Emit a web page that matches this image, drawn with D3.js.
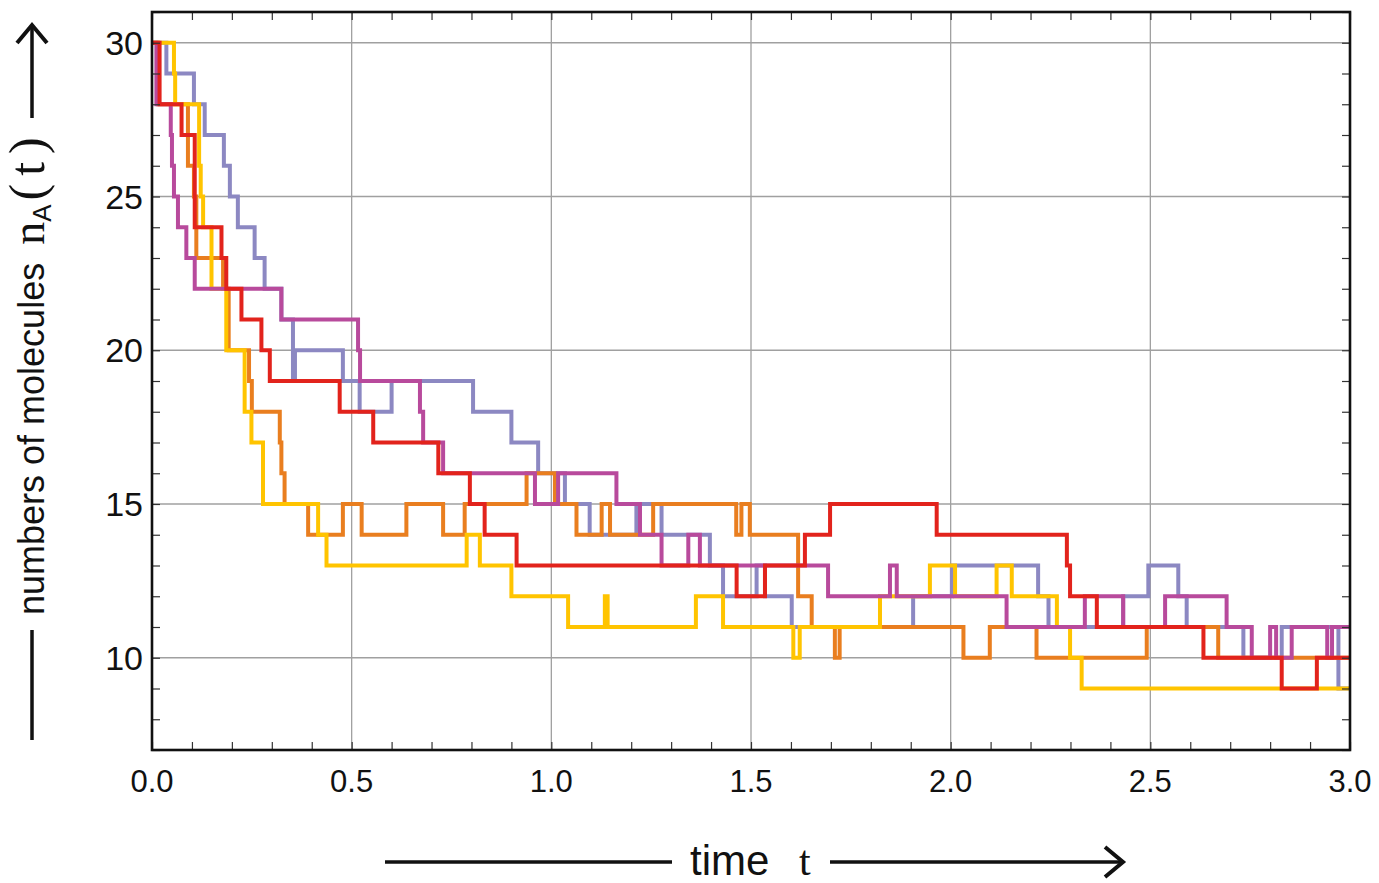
<!DOCTYPE html>
<html><head><meta charset="utf-8">
<script src="https://cdn.jsdelivr.net/npm/d3@7"></script>
<style>body{margin:0;background:#fff}svg{display:block}</style>
</head><body><svg id="c" width="1379" height="883"></svg>
<script>
// ---- data (time of jump, value after jump) ----
const blueT = [0,0.036,0.105,0.132,0.180,0.195,0.215,0.257,0.282,0.324,0.353,0.358,0.478,0.520,0.600,0.804,0.900,0.967,1.034,1.096,1.213,1.276,1.397,1.430,1.514,1.535,1.602,1.906,2.003,2.219,2.245,2.432,2.495,2.570,2.591,2.733,2.829,2.971];
const blueN = [30,29,28,27,26,25,24,23,22,21,19,20,19,18,19,18,17,16,15,14,15,14,13,12,13,12,11,12,13,12,11,12,13,12,11,10,11,9];
const orangeT = [0,0.015,0.090,0.105,0.111,0.178,0.192,0.243,0.250,0.320,0.324,0.332,0.391,0.478,0.525,0.637,0.729,0.783,0.938,1.009,1.063,1.126,1.147,1.255,1.463,1.476,1.497,1.618,1.652,1.710,1.722,2.032,2.098,2.215,2.491,2.670];
const orangeN = [30,28,26,25,23,22,20,19,18,17,16,15,14,15,14,15,14,15,16,15,14,15,14,15,14,15,14,12,11,10,11,10,11,10,11,10];
const yellowT = [0,0.055,0.058,0.118,0.122,0.128,0.149,0.186,0.232,0.249,0.278,0.416,0.437,0.788,0.821,0.900,1.042,1.134,1.141,1.362,1.430,1.606,1.622,1.823,1.948,2.011,2.115,2.153,2.266,2.299,2.328];
const yellowN = [30,29,28,26,25,24,22,20,18,17,15,14,13,14,13,12,11,12,11,12,11,10,11,12,13,12,13,12,11,10,9];
const magentaT = [0,0.011,0.047,0.050,0.055,0.065,0.086,0.107,0.324,0.516,0.521,0.671,0.679,0.729,0.959,1.017,1.163,1.222,1.276,1.343,1.372,1.693,1.848,1.865,2.140,2.336,2.432,2.537,2.691,2.754,2.800,2.815,2.854,2.943,2.955];
const magentaN = [30,28,27,26,25,24,23,22,21,20,19,18,17,16,15,16,15,14,13,14,13,12,13,12,11,12,11,12,11,10,11,10,11,10,11];
const redT = [0,0.019,0.074,0.107,0.174,0.186,0.224,0.274,0.295,0.470,0.554,0.717,0.796,0.833,0.913,1.464,1.535,1.635,1.698,1.965,2.291,2.299,2.366,2.633,2.829,2.917];
const redN = [30,28,27,24,23,22,21,20,19,18,17,16,15,14,13,12,13,14,15,14,13,12,11,10,9,10];

const xTickLabels = ["0.0","0.5","1.0","1.5","2.0","2.5","3.0"];
const yTickLabels = ["10","15","20","25","30"];
const tMax = 3.0;

const seriesList = [
  {t: blueT, n: blueN, color: "#8c88c2"},
  {t: orangeT, n: orangeN, color: "#e97e1f"},
  {t: yellowT, n: yellowN, color: "#ffc400"},
  {t: magentaT, n: magentaN, color: "#b84a9c"},
  {t: redT, n: redN, color: "#e2231c"}
];

// ---- layout ----
const L = 152, R = 1350, T = 12, B = 750;
const svg = d3.select("#c");
const x = d3.scaleLinear().domain([0, 3]).range([L, R]);
const y = d3.scaleLinear().domain([7, 31]).range([B, T]);

// grid
const gx = d3.range(0.5, 3.0, 0.5);
svg.append("g").selectAll("line").data(gx).join("line")
  .attr("x1", d => x(d)).attr("x2", d => x(d)).attr("y1", T).attr("y2", B)
  .attr("stroke", "#a0a0a0").attr("stroke-width", 1.3);
const gy = yTickLabels.map(Number);
svg.append("g").selectAll("line").data(gy).join("line")
  .attr("x1", L).attr("x2", R).attr("y1", d => y(d)).attr("y2", d => y(d))
  .attr("stroke", "#a0a0a0").attr("stroke-width", 1.3);

// series
const line = d3.line().x(d => x(d[0])).y(d => y(d[1])).curve(d3.curveStepAfter);
svg.append("clipPath").attr("id", "pc").append("rect")
  .attr("x", L).attr("y", T).attr("width", R - L).attr("height", B - T);
const gs = svg.append("g").attr("clip-path", "url(#pc)");
seriesList.forEach(s => {
  const pts = s.t.map((t, i) => [t, s.n[i]]);
  pts.push([tMax, s.n[s.n.length - 1]]);
  gs.append("path").datum(pts).attr("d", line)
    .attr("fill", "none").attr("stroke", s.color).attr("stroke-width", 4)
    .attr("stroke-linejoin", "miter").attr("stroke-linecap", "square");
});

// axes with inward minor ticks
const xt = d3.range(0, 31).map(i => i / 10);
const yt = d3.range(7, 32);
function styleTicks(g) {
  g.select(".domain").remove();
  g.selectAll("line").attr("stroke", "#333").attr("stroke-width", 1.2);
}
svg.append("g").attr("transform", `translate(0,${B})`)
  .call(d3.axisBottom(x).tickValues(xt).tickSize(-8).tickFormat("")).call(styleTicks);
svg.append("g").attr("transform", `translate(0,${T})`)
  .call(d3.axisTop(x).tickValues(xt).tickSize(-8).tickFormat("")).call(styleTicks);
svg.append("g").attr("transform", `translate(${L},0)`)
  .call(d3.axisLeft(y).tickValues(yt).tickSize(-8).tickFormat("")).call(styleTicks);
svg.append("g").attr("transform", `translate(${R},0)`)
  .call(d3.axisRight(y).tickValues(yt).tickSize(-8).tickFormat("")).call(styleTicks);

// frame
svg.append("rect").attr("x", L).attr("y", T).attr("width", R - L).attr("height", B - T)
  .attr("fill", "none").attr("stroke", "#111").attr("stroke-width", 2.6);

// tick labels
const font = "'Liberation Sans', Arial, Helvetica, sans-serif";
const serif = "'Liberation Serif', 'Times New Roman', serif";
svg.append("g").selectAll("text").data(xTickLabels).join("text")
  .attr("x", d => x(+d)).attr("y", 792)
  .attr("text-anchor", "middle").attr("font-family", font).attr("font-size", 31)
  .attr("fill", "#111").text(d => d);
svg.append("g").selectAll("text").data(yTickLabels).join("text")
  .attr("x", 143).attr("y", d => y(+d) + 12)
  .attr("text-anchor", "end").attr("font-family", font).attr("font-size", 34)
  .attr("fill", "#111").text(d => d);

// x title with arrow
const xtY = 862;
svg.append("line").attr("x1", 385).attr("x2", 672).attr("y1", xtY).attr("y2", xtY)
  .attr("stroke", "#111").attr("stroke-width", 3.5);
svg.append("text").attr("x", 690).attr("y", 875)
  .attr("font-family", font).attr("font-size", 42).attr("fill", "#111").text("time");
svg.append("text").attr("x", 799).attr("y", 875)
  .attr("font-family", serif).attr("font-size", 42).attr("fill", "#111").text("t");
svg.append("line").attr("x1", 830).attr("x2", 1122).attr("y1", xtY).attr("y2", xtY)
  .attr("stroke", "#111").attr("stroke-width", 3.5);
svg.append("path").attr("d", `M1105,${xtY-15} L1123,${xtY} L1105,${xtY+15}`)
  .attr("fill", "none").attr("stroke", "#111").attr("stroke-width", 4);

// y title with arrow
const ytX = 32;
svg.append("line").attr("x1", ytX).attr("x2", ytX).attr("y1", 740).attr("y2", 630)
  .attr("stroke", "#111").attr("stroke-width", 3.5);
const ytt = svg.append("text")
  .attr("transform", `translate(${ytX + 12},615) rotate(-90)`)
  .attr("font-family", font).attr("font-size", 36).attr("fill", "#111");
ytt.append("tspan").text("numbers of molecules");
ytt.append("tspan").attr("dx", 18).attr("font-family", serif).attr("font-size", 46).text("n");
ytt.append("tspan").attr("font-size", 26).attr("dy", 7).text("A");
ytt.append("tspan").attr("dy", -7).attr("dx", 4).attr("font-family", serif).attr("font-size", 50)
  .attr("letter-spacing", 8).text("(t)");
svg.append("line").attr("x1", ytX).attr("x2", ytX).attr("y1", 118).attr("y2", 26)
  .attr("stroke", "#111").attr("stroke-width", 3.5);
svg.append("path").attr("d", `M${ytX-15},43 L${ytX},25 L${ytX+15},43`)
  .attr("fill", "none").attr("stroke", "#111").attr("stroke-width", 4);
</script></body></html>
